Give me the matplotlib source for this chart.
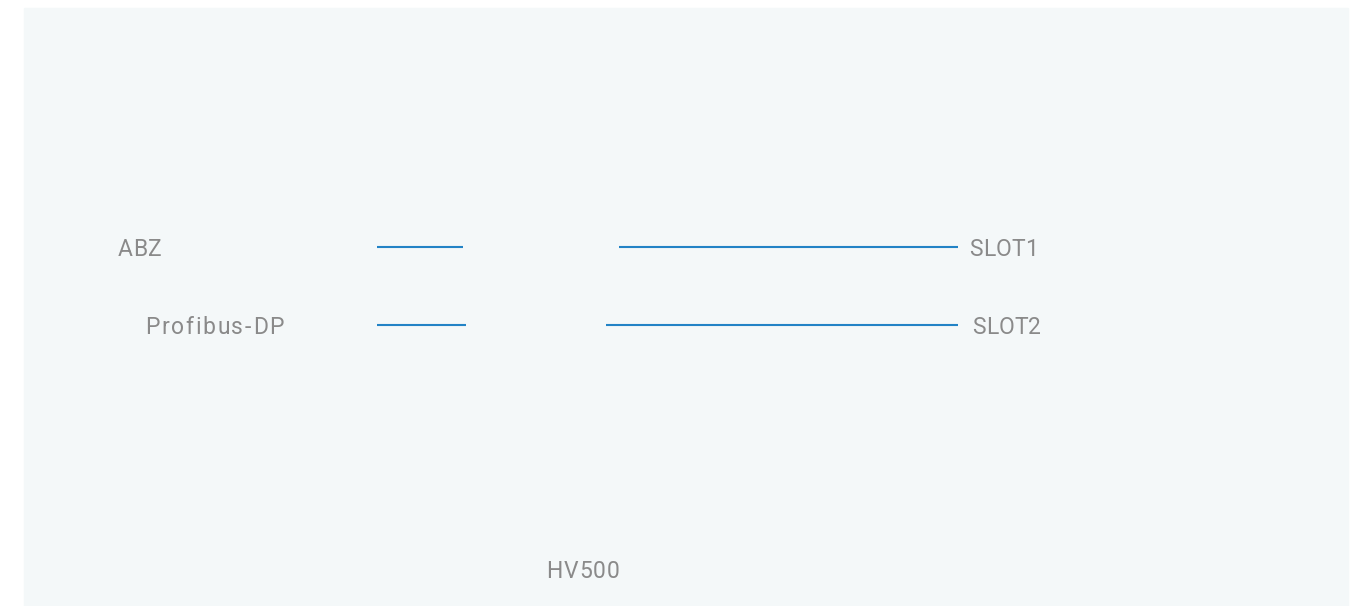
import matplotlib.pyplot as plt

# labels on each side of the wiring diagram
left_labels = ['ABZ', 'Profibus-DP']
right_labels = ['SLOT1', 'SLOT2']
device_label = 'HV500'

# line segments for each connection (x start, x end), in image units
left_seg = [(377, 463), (377, 466)]
right_seg = [(619, 958), (606, 958)]
row_y = [247, 325]

fig = plt.figure(figsize=(13.67, 6.06), dpi=100)
fig.patch.set_facecolor('white')
ax = fig.add_axes([0, 0, 1, 1])
ax.set_xlim(0, 1367)
ax.set_ylim(606, 0)
ax.axis('off')

# pale panel in the background
ax.add_patch(plt.Rectangle((24, 8), 1324, 600, color='#f4f8f9', zorder=0))

renderer = fig.canvas.get_renderer()
txt = dict(color='#8a8a8a', fontsize=16.5, family=['Roboto', 'DejaVu Sans'],
           va='center')
blue = '#2283c6'


def spaced_text(x, y, s, gap):
    # matplotlib has no letter spacing, so put the letters one by one
    for ch in s:
        t = ax.text(x, y, ch, ha='left', **txt)
        w = t.get_window_extent(renderer).width
        x += w + gap


label_x = [118, 145]
label_gap = [0.5, 1.7]
slot_x = [969, 972]
for i in range(len(row_y)):
    y = row_y[i]
    ax.plot(left_seg[i], [y, y], color=blue, lw=1.5, solid_capstyle='butt')
    ax.plot(right_seg[i], [y, y], color=blue, lw=1.5, solid_capstyle='butt')
    spaced_text(label_x[i], y + 2, left_labels[i], label_gap[i])
    spaced_text(slot_x[i], y + 2, right_labels[i], 0.2)

spaced_text(546, 572, device_label, 1.1)

fig.savefig('out.png', dpi=100)
